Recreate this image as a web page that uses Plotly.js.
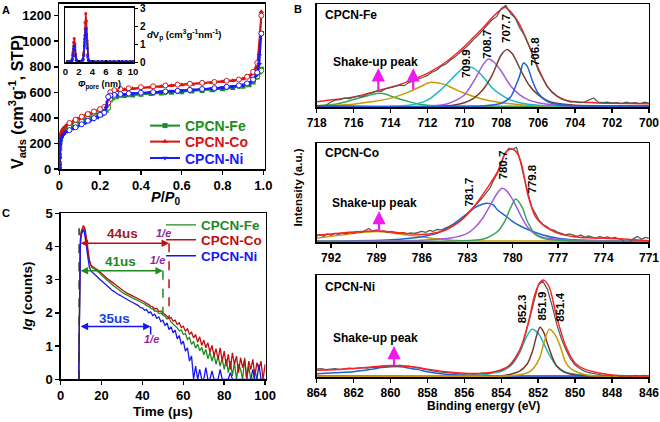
<!DOCTYPE html>
<html><head><meta charset="utf-8">
<script src="https://cdn.plot.ly/plotly-3.0.1.min.js"></script>
<style>html,body{margin:0;padding:0;background:#fff}#chart{width:660px;height:422px}</style>
</head><body><div id="chart"></div><script>
// ---------- Panel A : N2 isotherms ----------
const adsP = [0.0002,0.0005,0.001,0.002,0.004,0.006,0.01,0.015,0.02,0.03,0.04,0.05,0.07,0.09,0.11,0.13,0.15,0.17,0.19,0.21,0.22,0.23,0.24,0.25,0.26,0.28,0.32,0.36,0.40,0.45,0.50,0.55,0.60,0.65,0.70,0.75,0.80,0.85,0.90,0.93,0.95,0.97,0.98,0.99];
const feAds = [5,40,100,170,220,245,265,280,290,305,315,325,340,355,370,385,398,410,422,435,445,460,480,540,555,565,575,580,585,590,595,600,605,610,615,620,628,637,648,660,680,720,760,780];
const coAds = [10,60,130,200,245,268,288,305,318,335,348,358,375,392,408,422,435,448,460,472,480,492,510,590,605,612,620,627,633,640,646,652,657,662,668,675,682,690,705,720,745,800,900,1230];
const niAds = [5,30,80,140,190,215,240,258,270,285,295,303,318,333,348,362,375,390,405,420,435,480,555,568,572,578,585,590,595,600,604,608,612,617,622,628,635,643,655,668,690,740,820,1070];
const desP = [0.99,0.97,0.95,0.92,0.88,0.82,0.76,0.70,0.64,0.58,0.52,0.46,0.40,0.34,0.30,0.27,0.25,0.24,0.22,0.20,0.17,0.14,0.11,0.08,0.05];
const feDes = [770,725,690,662,648,638,628,622,615,608,601,596,590,584,578,570,548,480,445,430,412,392,372,348,326];
const coDes = [1200,830,760,722,700,690,681,674,667,660,654,647,640,632,625,617,600,520,485,468,450,430,410,385,360];
const niDes = [1060,755,700,670,655,643,633,626,619,612,607,602,597,591,586,580,575,565,440,423,398,378,350,326,304];
// inset: pore size distribution
const poreD = [0.3,0.6,0.9,1.0,1.1,1.2,1.3,1.4,1.5,1.6,1.8,2.0,2.2,2.4,2.6,2.7,2.8,2.9,3.0,3.1,3.2,3.3,3.4,3.6,3.8,4.2,4.8,5.4,6.0,6.6,7.2,7.8,8.4,9.0,9.6,10.0];
const coPSD = [0.05,0.05,0.08,0.2,0.55,1.1,1.32,1.0,0.45,0.15,0.06,0.05,0.05,0.07,0.2,0.55,1.3,2.2,2.72,2.3,1.2,0.45,0.15,0.06,0.05,0.05,0.05,0.05,0.05,0.05,0.05,0.05,0.05,0.05,0.05,0.05];
const fePSD = [0.05,0.05,0.07,0.17,0.45,0.9,1.1,0.85,0.4,0.13,0.06,0.05,0.05,0.06,0.17,0.45,1.1,1.85,2.25,1.9,1.0,0.38,0.13,0.06,0.05,0.05,0.05,0.05,0.05,0.05,0.05,0.05,0.05,0.05,0.05,0.05];
const niPSD = [0.05,0.05,0.06,0.14,0.38,0.75,0.9,0.7,0.32,0.11,0.05,0.05,0.05,0.06,0.14,0.38,0.9,1.5,1.85,1.55,0.8,0.3,0.1,0.05,0.05,0.05,0.05,0.05,0.05,0.05,0.05,0.05,0.05,0.05,0.05,0.05];
const aXTicks = [0,0.2,0.4,0.6,0.8,1.0];
const aXText = ['0','0.2','0.4','0.6','0.8','1.0'];
const aYTicks = [0,200,400,600,800,1000,1200];

// ---------- Panel C : decay ----------
const timeUs = [8.8,9.2,9.6,10,10.5,11,11.5,12,12.5,13,13.5,14,15,16,17,18,19,20,21,22,23,24,25,26,27,28,29,30,31,32,33,34,35,36,37,38,39,40,41,42,43,44,45,46,47,48,49,50,51,52,53,54,55,56,57,58,59,60,61,62,63,64,65,66,67,68,69,70,71,72,73,74,75,76,77,78,79,80,81,82,83,84,85,86,87,88,89,90,91,92,93,94,95,96,97,98,99,100];
const coDecay = [0,3.5,4.2,4.45,4.55,4.62,4.6,4.5,4.3,4.05,3.8,3.6,
 3.42,3.37,3.34,3.3,3.24,3.18,3.12,3.07,3.02,2.98,
 2.93,2.88,2.83,2.78,2.73,2.68,2.65,2.61,2.58,2.55,
 2.52,2.48,2.46,2.42,2.4,2.35,2.33,2.28,2.26,2.2,
 2.18,2.12,2.14,2.04,2.06,1.99,1.96,1.9,1.84,1.86,
 1.75,1.78,1.65,1.7,1.56,1.6,1.45,1.52,1.36,1.42,
 1.25,1.35,1.12,1.28,1.02,1.18,0.95,1.1,0.82,1.02,
 0.7,0.92,0.6,0.95,0.55,0.85,0.4,0.75,0.3,0.8,
 0.45,0.7,0.2,0.65,0.35,0.6,0.0,0.55,0.3,0.6,
 0.1,0.5,0.3,0.55,0.0,0.45];
const feDecay = [0,3.4,4.1,4.4,4.5,4.55,4.52,4.4,4.2,3.95,3.72,3.55,
 3.38,3.33,3.31,3.26,3.2,3.13,3.07,3.01,2.96,2.91,
 2.86,2.81,2.76,2.71,2.66,2.61,2.58,2.55,2.52,2.49,
 2.46,2.43,2.4,2.36,2.34,2.3,2.27,2.22,2.2,2.14,
 2.12,2.05,2.06,1.98,2.0,1.94,1.9,1.82,1.84,1.72,
 1.66,1.62,1.55,1.46,1.48,1.35,1.38,1.2,1.26,1.05,
 1.14,0.94,1.06,0.86,0.96,0.74,0.9,0.62,0.82,0.55,
 0.75,0.45,0.7,0.4,0.62,0.3,0.6,0.2,0.55,0.1,
 0.5,0.0,0.45,0.3,0.0,0.65,0.0,0.4,0.0,0.0,
 0.3,0,0,0,0,0];
const niDecay = [0,3.3,4.0,4.35,4.45,4.5,4.45,4.3,4.05,3.8,3.55,3.38,
 3.25,3.2,3.15,3.08,3.02,2.96,2.9,2.84,2.79,2.74,
 2.69,2.65,2.6,2.56,2.53,2.49,2.46,2.42,2.39,2.35,
 2.32,2.29,2.25,2.22,2.16,2.15,2.08,2.1,2.0,2.03,
 1.92,1.96,1.84,1.88,1.74,1.78,1.62,1.7,1.5,1.58,
 1.4,1.48,1.22,1.32,1.05,1.15,0.85,0.95,0.55,0.7,
 0,0.4,0,0.3,0,0,0.35,0,0,0.25,
 0,0,0,0.3,0,0,0,0,0.2,0,
 0,0,0,0,0,0,0,0,0,0.3,
 0,0,0.45,0,0,0];
const t0 = 9;                     // excitation time (us)
const lifetimes = [41, 44, 35];   // Fe, Co, Ni (us)
const lifeLevels = [3.27, 4.1, 1.59];
const dashEnds = [1.95, 1.85, 1.35];
const cXTicks = [0,20,40,60,80,100];
const cYTicks = [0,1,2,3,4,5];

// ---------- Panel B : XPS ----------
const feRaw = [0.01,0.012,0.02,0.05,0.07,0.075,0.09,0.085,
 0.10,0.11,0.105,0.13,0.14,0.16,0.155,0.18,
 0.19,0.20,0.215,0.21,0.24,0.255,0.27,0.29,
 0.31,0.34,0.36,0.40,0.42,0.46,0.49,0.53,
 0.57,0.61,0.66,0.70,0.75,0.80,0.85,0.88,
 0.96,0.99,0.91,0.87,0.77,0.70,0.59,0.49,
 0.36,0.28,0.20,0.15,0.11,0.08,0.065,0.05,
 0.055,0.045,0.05,0.07,0.09,0.05,0.045,0.05,
 0.04,0.045,0.035,0.05,0.04,0.045,0.035,0.05,
 0.04];
const feGreenX = [718,717,716.5,716,715.5,715,714.6,714.2,714,713.5,713,712.5,712,711,710,706,700];
const feGreenY = [0.015,0.03,0.05,0.075,0.1,0.125,0.136,0.125,0.11,0.08,0.055,0.032,0.02,0.014,0.012,0.01,0.01];
const feGoldX = [718,716,715,714,713,712.5,712,711.8,711.4,711,710.5,710,709,708,707,706,704,700];
const feGoldY = [0.013,0.03,0.055,0.087,0.15,0.19,0.233,0.243,0.235,0.217,0.175,0.136,0.078,0.045,0.026,0.016,0.013,0.013];
const feCyanX = [718,713,712,711.5,711,710.5,710,709.8,709.5,709,708.5,708,707.5,707,706,705,700];
const feCyanY = [0.01,0.02,0.07,0.136,0.217,0.31,0.39,0.395,0.38,0.30,0.19,0.12,0.07,0.045,0.02,0.012,0.01];
const fePurpleX = [718,712,711,710.5,710,709.5,709,708.7,708.4,708,707.5,707,706.5,706,705,700];
const fePurpleY = [0.012,0.013,0.03,0.065,0.12,0.25,0.41,0.47,0.44,0.35,0.21,0.12,0.07,0.045,0.02,0.012];
const feBrownX = [718,711,710,709.5,709,708.5,708,707.7,707.4,707,706.5,706,705.5,705,704,700];
const feBrownY = [0.012,0.013,0.045,0.087,0.17,0.31,0.51,0.56,0.52,0.38,0.217,0.12,0.065,0.039,0.02,0.012];
const feBlueX = [718,709,708,707.5,707.2,707,706.8,706.6,706.3,706,705.5,705,704,700];
const feBlueY = [0.012,0.013,0.039,0.10,0.217,0.31,0.43,0.40,0.25,0.136,0.055,0.03,0.015,0.012];
const feEnvX = [718,717,716,715,714.5,714,713.5,713,712.5,712,711.5,711,710.5,710,709.5,709,708.5,708,707.8,707.5,707,706.5,706,705.5,705,704.5,704,703,702,700];
const feEnvY = [0.055,0.075,0.10,0.145,0.17,0.195,0.22,0.255,0.29,0.33,0.38,0.44,0.51,0.59,0.68,0.77,0.87,0.95,0.97,0.93,0.80,0.60,0.38,0.20,0.11,0.07,0.055,0.045,0.04,0.035];

const coRaw = [0.06,0.08,0.06,0.085,0.07,0.09,0.08,0.095,
 0.085,0.10,0.09,0.11,0.10,0.12,0.14,0.11,
 0.125,0.11,0.115,0.10,0.11,0.095,0.09,0.10,
 0.085,0.095,0.09,0.10,0.11,0.10,0.12,0.11,
 0.13,0.125,0.14,0.16,0.17,0.19,0.21,0.25,
 0.28,0.32,0.36,0.40,0.45,0.50,0.55,0.63,
 0.70,0.80,0.90,0.95,0.94,0.96,0.82,0.65,
 0.50,0.36,0.29,0.22,0.18,0.16,0.13,0.12,
 0.10,0.09,0.075,0.085,0.07,0.06,0.075,0.05,
 0.065,0.055,0.04,0.06,0.045,0.055,0.04,0.05,
 0.035,0.03,-0.04,0.01,0.04,0.06,0.03,0.05,
 0.04];
const coGoldX = [793,792,791,790,789.5,789,788.5,788,787,786,785,784,782,771];
const coGoldY = [0.04,0.06,0.08,0.10,0.105,0.108,0.105,0.095,0.075,0.055,0.035,0.02,0.013,0.013];
const coBlueX = [793,788,786,785,784,783,782.5,782,781.7,781.3,781,780.5,780,779.5,779,778,777,776,774,771];
const coBlueY = [0.01,0.025,0.057,0.09,0.175,0.29,0.35,0.384,0.394,0.38,0.327,0.27,0.21,0.165,0.13,0.074,0.04,0.025,0.015,0.01];
const coPurpleX = [793,786,784,783,782.5,782,781.5,781,780.7,780.4,780,779.5,779,778.5,778,777,776,774,771];
const coPurpleY = [0.012,0.02,0.045,0.09,0.15,0.24,0.37,0.50,0.545,0.52,0.43,0.28,0.15,0.08,0.05,0.03,0.02,0.015,0.012];
const coGreenX = [793,784,782,781.5,781,780.5,780.2,779.8,779.4,779,778.5,778,777,776,771];
const coGreenY = [0.01,0.012,0.03,0.06,0.11,0.22,0.33,0.437,0.36,0.2,0.08,0.04,0.02,0.012,0.01];
const coEnvX = [793,792,791,790,789,788,787,786,785,784.5,784,783.5,783,782.5,782,781.5,781,780.5,780.2,780,779.7,779.4,779,778.5,778,777.5,777,776,775,773,771];
const coEnvY = [0.07,0.085,0.10,0.11,0.115,0.105,0.09,0.08,0.10,0.12,0.158,0.21,0.28,0.37,0.478,0.59,0.714,0.90,0.94,0.94,0.90,0.78,0.48,0.26,0.175,0.125,0.09,0.057,0.045,0.035,0.015];

const niRaw = [0.08,0.085,0.075,0.08,0.085,0.075,0.08,0.09,
 0.085,0.09,0.095,0.09,0.10,0.095,0.105,0.11,
 0.115,0.105,0.12,0.11,0.11,0.10,0.09,0.08,
 0.075,0.065,0.055,0.05,0.045,0.04,0.035,0.03,
 0.03,0.035,0.03,0.035,0.04,0.035,0.05,0.06,
 0.065,0.09,0.13,0.19,0.27,0.38,0.55,0.74,
 0.90,0.94,0.86,0.70,0.52,0.38,0.27,0.18,
 0.12,0.085,0.06,0.045,0.035,0.03,0.02,0.025,
 0.015,0.02,0.01,0.015,0.01,0.02,0.012,0.02,
 0.015];
const niBlueX = [864,863,862,861,860.5,860,859.7,859.3,859,858.5,858,857.5,857,856,855,854,846];
const niBlueY = [0.035,0.045,0.055,0.08,0.095,0.103,0.105,0.10,0.09,0.075,0.055,0.04,0.03,0.02,0.015,0.012,0.01];
const niCyanX = [864,856,855,854.5,854,853.5,853,852.7,852.35,852,851.7,851.4,851,850.5,850,849,846];
const niCyanY = [0.01,0.015,0.025,0.04,0.06,0.11,0.24,0.37,0.47,0.43,0.33,0.22,0.11,0.05,0.03,0.015,0.01];
const niBrownX = [864,854,853.5,853,852.6,852.3,852.1,851.9,851.7,851.5,851.2,851,850.6,850.2,849.5,848,846];
const niBrownY = [0.01,0.015,0.03,0.06,0.13,0.26,0.40,0.49,0.44,0.33,0.18,0.11,0.05,0.03,0.015,0.01,0.01];
const niGoldX = [864,853.5,853,852.5,852.2,851.9,851.7,851.4,851.1,850.8,850.5,850.2,849.8,849.3,848.5,846];
const niGoldY = [0.01,0.015,0.025,0.05,0.10,0.20,0.33,0.47,0.42,0.30,0.14,0.08,0.045,0.02,0.012,0.01];
const niBaseX = [864,846];
const niBaseY = [0.012,0.012];
const niEnvX = [864,863,862,861,860.5,860,859.5,859,858.5,858,857,856,855,854.5,854,853.5,853,852.5,852.2,851.9,851.7,851.4,851,850.5,850,849.5,849,848,846];
const niEnvY = [0.07,0.075,0.085,0.10,0.11,0.115,0.112,0.105,0.095,0.08,0.055,0.04,0.04,0.05,0.075,0.12,0.26,0.56,0.80,0.93,0.95,0.88,0.59,0.30,0.137,0.08,0.055,0.023,0.012];

const feTicks = [718,716,714,712,710,708,706,704,702,700];
const coTicks = [792,789,786,783,780,777,774,771];
const niTicks = [864,862,860,858,856,854,852,850,848,846];
const fePeakLabels = ['709.9','708.7','707.7','706.8'];
const coPeakLabels = ['781.7','780.7','779.8'];
const niPeakLabels = ['852.3','851.9','851.4'];
const samples = ['CPCN-Fe','CPCN-Co','CPCN-Ni'];

// ---------- styling ----------
const FONT = 'Liberation Sans, Arial, Helvetica, sans-serif';
const GREEN = '#1e8c24', RED = '#d61515', BLUE = '#1a1aff';
const C_GREEN = '#1f8a1f', C_RED = '#c00d0d', C_BLUE = '#1616f0';
const XG = '#36a35a', XGOLD = '#c99a06', XCYAN = '#1cb9c2', XPURP = '#a25bdc', XBROWN = '#7a3b2c', XBLUE = '#1c63d8', XRED = '#ff2222', XRAW = '#555555';
function fnt(size, color, extra){ return Object.assign({family: FONT, size: size, color: color || '#000', weight: 'bold'}, extra || {}); }
function axis(o){ return Object.assign({showline:true, linecolor:'#000', linewidth:1.5, mirror:true, ticks:'outside', ticklen:4, tickwidth:1.5, tickcolor:'#000', showgrid:false, zeroline:false, tickfont:fnt(13), fixedrange:true}, o); }
function grid(start, step, n){ const a = []; for (let i = 0; i < n; i++) a.push(+(start - i*step).toFixed(3)); return a; }

const traces = [];
// Panel A
[[feAds, feDes, GREEN, 'square', 'legend'], [coAds, coDes, RED, 'triangle-up', 'legend2'], [niAds, niDes, BLUE, 'triangle-down', 'legend3']].forEach((d, i) => {
  traces.push({x: adsP, y: d[0], xaxis:'x', yaxis:'y', mode:'lines+markers', name: samples[i], legend: d[4],
    line:{color:d[2], width:2}, marker:{symbol:d[3], size:5, color:d[2]}});
  traces.push({x: desP, y: d[1], xaxis:'x', yaxis:'y', mode:'lines+markers', showlegend:false,
    line:{color:d[2], width:1.5}, marker:{symbol:'circle', size:5, color:'#fff', line:{color:d[2], width:1}}});
});
[[fePSD, GREEN], [coPSD, RED], [niPSD, BLUE]].forEach(d => {
  traces.push({x: poreD, y: d[0], xaxis:'x2', yaxis:'y2', mode:'lines+markers', showlegend:false,
    line:{color:d[1], width:1.5}, marker:{size:3, color:d[1]}});
});
// Panel C
[[feDecay, C_GREEN, 'legend4'], [coDecay, C_RED, 'legend5'], [niDecay, C_BLUE, 'legend6']].forEach((d, i) => {
  traces.push({x: timeUs, y: d[0], xaxis:'x3', yaxis:'y3', mode:'lines', name: samples[i], legend: d[2],
    line:{color:d[1], width:1.3}});
});
// Panel B
function comp(x, y, c, xa, ya){ traces.push({x:x, y:y, xaxis:xa, yaxis:ya, mode:'lines', showlegend:false, line:{color:c, width:1.5, shape:'spline', smoothing:0.8}}); }
function raw(y, start, xa, ya){ traces.push({x: grid(start, 0.25, y.length), y:y, xaxis:xa, yaxis:ya, mode:'lines', showlegend:false, line:{color:XRAW, width:1.2}}); }
comp(feGreenX, feGreenY, XG, 'x4', 'y4');
comp(feGoldX, feGoldY, XGOLD, 'x4', 'y4');
comp(feCyanX, feCyanY, XCYAN, 'x4', 'y4');
comp(fePurpleX, fePurpleY, XPURP, 'x4', 'y4');
comp(feBrownX, feBrownY, XBROWN, 'x4', 'y4');
comp(feBlueX, feBlueY, XBLUE, 'x4', 'y4');
comp(feEnvX, feEnvY, XRED, 'x4', 'y4');
raw(feRaw, 718, 'x4', 'y4');
comp(coGoldX, coGoldY, XGOLD, 'x5', 'y5');
comp(coBlueX, coBlueY, XBLUE, 'x5', 'y5');
comp(coPurpleX, coPurpleY, XPURP, 'x5', 'y5');
comp(coGreenX, coGreenY, XG, 'x5', 'y5');
raw(coRaw, 793, 'x5', 'y5');
comp(coEnvX, coEnvY, XRED, 'x5', 'y5');
comp(niBaseX, niBaseY, XPURP, 'x6', 'y6');
comp(niBlueX, niBlueY, XBLUE, 'x6', 'y6');
comp(niCyanX, niCyanY, XCYAN, 'x6', 'y6');
comp(niBrownX, niBrownY, XBROWN, 'x6', 'y6');
comp(niGoldX, niGoldY, XGOLD, 'x6', 'y6');
raw(niRaw, 864, 'x6', 'y6');
comp(niEnvX, niEnvY, XRED, 'x6', 'y6');

// ---------- annotations ----------
const ann = [];
function pa(text, x, y, size, extra){ ann.push(Object.assign({text:text, x:x, y:y, xref:'paper', yref:'paper', showarrow:false, font:fnt(size), xanchor:'center', yanchor:'middle'}, extra || {})); }
pa('A', 0.0091, 0.976, 11);
pa('B', 0.4515, 0.978, 11);
pa('C', 0.0091, 0.4953, 11);
pa('V<sub>ads</sub> (cm<sup>3</sup>g<sup>-1</sup>, STP)', 0.0258, 0.7583, 16, {textangle:-90});
pa('<i>P</i>/<i>P</i><sub>0</sub>', 0.2515, 0.5308, 14.5);
pa('<i>d</i>V<sub>p</sub> (cm<sup>3</sup>g<sup>-1</sup>nm<sup>-1</sup>)', 0.2197, 0.9170, 9.5, {xanchor:'left'});
pa('<i>Φ</i><sub>pore</sub> (nm)', 0.1515, 0.8175, 9, {yanchor:'top'});
pa('<i>lg</i> (counts)', 0.0417, 0.2986, 13.5, {textangle:-90});
pa('Time (μs)', 0.247, 0.026, 13.5);
pa('Intensity (a.u.)', 0.453, 0.5557, 11.5, {textangle:-90});
pa('Binding energy (eV)', 0.7326, 0.0379, 12);
// sample names in B
[['x4','y4',0.895],['x5','y5',0.90],['x6','y6',0.886]].forEach((d, i) => {
  ann.push({text: samples[i], xref: d[0] + ' domain', yref: d[1] + ' domain', x: 0.019, y: d[2], xanchor:'left', yanchor:'middle', showarrow:false, font: fnt(12)});
});
function da(text, x, y, xa, ya, size, extra){ ann.push(Object.assign({text:text, x:x, y:y, xref:xa, yref:ya, showarrow:false, font:fnt(size), xanchor:'center', yanchor:'middle'}, extra || {})); }
// peak labels
[[709.87,0.427],[708.79,0.615],[707.71,0.767],[706.17,0.537]].forEach((p,i) => da(fePeakLabels[i], p[0], p[1], 'x4', 'y4', 11.5, {textangle:-90}));
[[782.87,0.505],[780.62,0.78],[778.75,0.64]].forEach((p,i) => da(coPeakLabels[i], p[0], p[1], 'x5', 'y5', 11.5, {textangle:-90}));
[[852.9,0.67],[851.81,0.70],[850.82,0.69]].forEach((p,i) => da(niPeakLabels[i], p[0], p[1], 'x6', 'y6', 11.5, {textangle:-90}));
// shake-up
da('Shake-up peak', 714.84, 0.443, 'x4', 'y4', 12);
da('Shake-up peak', 789.1, 0.394, 'x5', 'y5', 12);
da('Shake-up peak', 860.84, 0.381, 'x6', 'y6', 12);
function up(x, y0, y1, xa, ya){ ann.push({text:'', x:x, y:y1, ax:x, ay:y0, xref:xa, yref:ya, axref:xa, ayref:ya, showarrow:true, arrowhead:2, arrowsize:1.2, arrowwidth:2.2, arrowcolor:'#f01af0', standoff:0, startstandoff:0}); }
up(714.66, 0.152, 0.379, 'x4', 'y4');
up(712.77, 0.16, 0.379, 'x4', 'y4');
up(788.83, 0.09, 0.316, 'x5', 'y5');
up(859.81, 0.104, 0.306, 'x6', 'y6');
// panel C lifetime annotations
const lifeColors = ['#1f8a1f', '#a61c1c', '#1a3ce6'];
const lifeLabelPos = [[29.3, 3.54], [30.3, 4.38], [26.5, 1.84]];
const ePos = [[47.4, 3.59], [50.5, 4.42], [44.5, 1.2]];
const shapes = [];
shapes.push({type:'line', xref:'x3', yref:'y3', x0:t0, x1:t0, y0:0, y1:4.55, line:{color:'#333', width:1.5, dash:'dash'}});
lifetimes.forEach((tau, i) => {
  const c = [C_GREEN, C_RED, C_BLUE][i];
  ann.push({text:'', x:t0 + tau, y:lifeLevels[i], ax:t0, ay:lifeLevels[i], xref:'x3', yref:'y3', axref:'x3', ayref:'y3', showarrow:true, arrowhead:2, arrowside:'end+start', arrowsize:1, arrowwidth:1.5, arrowcolor:c, standoff:0, startstandoff:0});
  shapes.push({type:'line', xref:'x3', yref:'y3', x0:t0 + tau, x1:t0 + tau, y0:lifeLevels[i], y1:dashEnds[i], line:{color:c, width:1.5, dash:'dash'}});
  da(tau + 'us', lifeLabelPos[i][0], lifeLabelPos[i][1], 'x3', 'y3', 13.5, {font: fnt(13.5, lifeColors[i])});
  da('<i>1/e</i>', ePos[i][0], ePos[i][1], 'x3', 'y3', 11, {font: fnt(11, '#92279f')});
});

function leg(x, y, color, size){ return {x:x, y:y, xanchor:'left', yanchor:'middle', bgcolor:'rgba(0,0,0,0)', borderwidth:0, font: fnt(size, color), itemclick:false, itemdoubleclick:false}; }

const layout = {
  width:660, height:422, margin:{l:0, r:0, t:0, b:0}, paper_bgcolor:'#fff', plot_bgcolor:'rgba(0,0,0,0)',
  font:{family:FONT, weight:'bold'}, showlegend:true,
  legend: leg(0.2197, 0.7014, GREEN, 14),
  legend2: leg(0.2197, 0.6635, RED, 14),
  legend3: leg(0.2197, 0.6244, BLUE, 14),
  legend4: leg(0.2440, 0.4668, C_GREEN, 13.5),
  legend5: leg(0.2440, 0.4313, C_RED, 13.5),
  legend6: leg(0.2440, 0.3934, C_BLUE, 13.5),
  xaxis: axis({domain:[0.0898, 0.4015], range:[0, 1.008], anchor:'y', tickvals:aXTicks, ticktext:aXText}),
  yaxis: axis({domain:[0.5995, 0.9917], range:[0, 1295], anchor:'x', tickvals:aYTicks}),
  xaxis2: axis({domain:[0.0992, 0.2026], range:[0, 10.1], anchor:'y2', tickvals:[0,2,4,6,8,10], ticks:'inside', ticklen:2, tickwidth:1.2, linewidth:1.3, tickfont:fnt(9.5)}),
  yaxis2: axis({domain:[0.8524, 0.9822], range:[0, 3.05], anchor:'x2', side:'right', tickvals:[0,1,2,3], ticklen:3, tickwidth:1.2, linewidth:1.3, tickfont:fnt(10)}),
  xaxis3: axis({domain:[0.0920, 0.4026], range:[0, 100.3], anchor:'y3', tickvals:cXTicks}),
  yaxis3: axis({domain:[0.1012, 0.4945], range:[0, 5], anchor:'x3', tickvals:cYTicks}),
  xaxis4: axis({domain:[0.4798, 0.9833], range:[718, 700], anchor:'y4', tickvals:feTicks, tickfont:fnt(12)}),
  yaxis4: axis({domain:[0.7457, 0.9898], range:[0, 1], anchor:'x4', ticks:'', showticklabels:false}),
  xaxis5: axis({domain:[0.4798, 0.9833], range:[792.95, 771], anchor:'y5', tickvals:coTicks, tickfont:fnt(12)}),
  yaxis5: axis({domain:[0.4258, 0.6604], range:[0, 1], anchor:'x5', ticks:'', showticklabels:false}),
  xaxis6: axis({domain:[0.4798, 0.9833], range:[864, 846], anchor:'y6', tickvals:niTicks, tickfont:fnt(12)}),
  yaxis6: axis({domain:[0.1059, 0.3483], range:[0, 1], anchor:'x6', ticks:'', showticklabels:false}),
  annotations: ann, shapes: shapes
};
Plotly.newPlot('chart', traces, layout, {staticPlot:true, displayModeBar:false});
</script></body></html>
